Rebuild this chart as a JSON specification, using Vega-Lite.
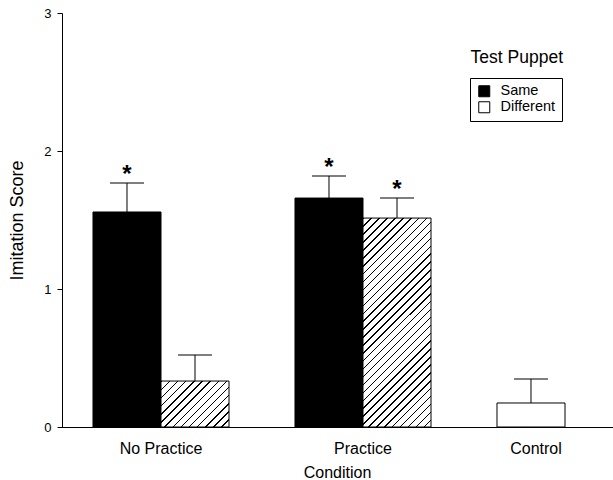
{
  "$schema": "https://vega.github.io/schema/vega-lite/v6.json",
  "autosize": "none",
  "width": 551,
  "height": 414,
  "padding": {"left": 62, "top": 13, "right": 0, "bottom": 53},
  "background": "white",
  "config": {
    "view": {"stroke": null},
    "font": "Liberation Sans",
    "axis": {"labelColor": "black", "titleColor": "black", "domainColor": "black", "tickColor": "black", "titleFontWeight": "normal", "labelFontSize": 16, "titleFontSize": 16, "grid": false, "labelFont": "Liberation Sans", "titleFont": "Liberation Sans"}
  },
  "title": {"text": "Test Puppet", "anchor": "end", "frame": "group", "orient": "top", "offset": -73, "dx": -50, "baseline": "alphabetic", "fontSize": 17.5, "fontWeight": "normal", "color": "black", "font": "Liberation Sans"},
  "data": {"values": [
    {"condition": "No Practice", "puppet": "Same", "mean": 1.558, "upper": 1.768, "sig": "*"},
    {"condition": "No Practice", "puppet": "Different", "mean": 0.333, "upper": 0.522, "sig": ""},
    {"condition": "Practice", "puppet": "Same", "mean": 1.659, "upper": 1.819, "sig": "*"},
    {"condition": "Practice", "puppet": "Different", "mean": 1.514, "upper": 1.659, "sig": "*"},
    {"condition": "Control", "puppet": "Control", "mean": 0.174, "upper": 0.348, "sig": ""}
  ]},
  "encoding": {
    "x": {"field": "condition", "type": "nominal", "title": "Condition",
      "scale": {"domain": ["No Practice", "Practice", "Control"], "range": [-2, 604], "paddingInner": 0, "paddingOuter": 0},
      "axis": {"labelAngle": 0, "ticks": false, "labelPadding": 13, "titlePadding": 8, "titleX": 275, "titleFontSize": 16,
        "labelOffset": {"condition": {"test": "datum.value === 'Control'", "value": -29}, "value": 0}}},
    "y": {"field": "mean", "type": "quantitative", "title": "Imitation Score",
      "scale": {"domain": [0, 3], "nice": false},
      "axis": {"values": [0, 1, 2, 3], "tickSize": 5, "labelPadding": 6, "labelFontSize": 13, "titleFontSize": 18, "titlePadding": 17}}
  },
  "layer": [
    {
      "transform": [{"filter": "datum.puppet !== 'Control'"}],
      "encoding": {"xOffset": {"field": "puppet", "type": "nominal", "scale": {"domain": ["Same", "Different"], "paddingInner": 0, "paddingOuter": 0.485}}},
      "layer": [
        {
          "transform": [{"filter": "datum.puppet === 'Same'"}],
          "mark": {"type": "bar", "stroke": "black", "strokeWidth": 1},
          "encoding": {
            "color": {"field": "puppet", "type": "nominal",
              "scale": {"domain": ["Same", "Different"], "range": ["black", "white"]},
              "legend": {"title": null, "orient": "none", "legendX": 408, "legendY": 65, "strokeColor": "black", "padding": 6, "symbolType": "square", "symbolSize": 121, "symbolStrokeColor": "black", "symbolStrokeWidth": 1, "labelFontSize": 14.5, "labelColor": "black", "labelOffset": 9, "symbolOffset": 1, "rowPadding": 0, "labelFont": "Liberation Sans",
                "encode": {"symbols": {"update": {"stroke": {"value": "black"}, "strokeWidth": {"value": 1}}}}}}
          }
        },
        {
          "transform": [{"filter": "datum.puppet === 'Different' && datum.condition === 'No Practice'"}],
          "mark": {"type": "bar", "stroke": "black", "strokeWidth": 1, "fill": {"gradient": "linear", "x1": 0, "y1": 0, "x2": 1.1501, "y2": 0.778, "stops": [
            {"offset": 0, "color": "#000"}, {"offset": 0.013, "color": "#000"}, {"offset": 0.013, "color": "#fff"}, {"offset": 0.0714, "color": "#fff"},
            {"offset": 0.0714, "color": "#000"}, {"offset": 0.0844, "color": "#000"}, {"offset": 0.0844, "color": "#fff"}, {"offset": 0.1429, "color": "#fff"},
            {"offset": 0.1429, "color": "#000"}, {"offset": 0.1559, "color": "#000"}, {"offset": 0.1559, "color": "#fff"}, {"offset": 0.2143, "color": "#fff"},
            {"offset": 0.2143, "color": "#000"}, {"offset": 0.2273, "color": "#000"}, {"offset": 0.2273, "color": "#fff"}, {"offset": 0.2857, "color": "#fff"},
            {"offset": 0.2857, "color": "#000"}, {"offset": 0.2987, "color": "#000"}, {"offset": 0.2987, "color": "#fff"}, {"offset": 0.3571, "color": "#fff"},
            {"offset": 0.3571, "color": "#000"}, {"offset": 0.3701, "color": "#000"}, {"offset": 0.3701, "color": "#fff"}, {"offset": 0.4286, "color": "#fff"},
            {"offset": 0.4286, "color": "#000"}, {"offset": 0.4416, "color": "#000"}, {"offset": 0.4416, "color": "#fff"}, {"offset": 0.5, "color": "#fff"},
            {"offset": 0.5, "color": "#000"}, {"offset": 0.513, "color": "#000"}, {"offset": 0.513, "color": "#fff"}, {"offset": 0.5714, "color": "#fff"},
            {"offset": 0.5714, "color": "#000"}, {"offset": 0.5844, "color": "#000"}, {"offset": 0.5844, "color": "#fff"}, {"offset": 0.6429, "color": "#fff"},
            {"offset": 0.6429, "color": "#000"}, {"offset": 0.6559, "color": "#000"}, {"offset": 0.6559, "color": "#fff"}, {"offset": 0.7143, "color": "#fff"},
            {"offset": 0.7143, "color": "#000"}, {"offset": 0.7273, "color": "#000"}, {"offset": 0.7273, "color": "#fff"}, {"offset": 0.7857, "color": "#fff"},
            {"offset": 0.7857, "color": "#000"}, {"offset": 0.7987, "color": "#000"}, {"offset": 0.7987, "color": "#fff"}, {"offset": 0.8571, "color": "#fff"},
            {"offset": 0.8571, "color": "#000"}, {"offset": 0.8701, "color": "#000"}, {"offset": 0.8701, "color": "#fff"}, {"offset": 0.9286, "color": "#fff"},
            {"offset": 0.9286, "color": "#000"}, {"offset": 0.9416, "color": "#000"}, {"offset": 0.9416, "color": "#fff"}, {"offset": 1, "color": "#fff"}]}}
        },
        {
          "transform": [{"filter": "datum.puppet === 'Different' && datum.condition === 'Practice'"}],
          "mark": {"type": "bar", "stroke": "black", "strokeWidth": 1, "fill": {"gradient": "linear", "x1": 0, "y1": 0, "x2": 0.38994, "y2": 1.19849, "stops": [
            {"offset": 0, "color": "#000"}, {"offset": 0.0054, "color": "#000"}, {"offset": 0.0054, "color": "#fff"}, {"offset": 0.02857, "color": "#fff"},
            {"offset": 0.02857, "color": "#000"}, {"offset": 0.03397, "color": "#000"}, {"offset": 0.03397, "color": "#fff"}, {"offset": 0.05714, "color": "#fff"},
            {"offset": 0.05714, "color": "#000"}, {"offset": 0.06254, "color": "#000"}, {"offset": 0.06254, "color": "#fff"}, {"offset": 0.08571, "color": "#fff"},
            {"offset": 0.08571, "color": "#000"}, {"offset": 0.09111, "color": "#000"}, {"offset": 0.09111, "color": "#fff"}, {"offset": 0.11429, "color": "#fff"},
            {"offset": 0.11429, "color": "#000"}, {"offset": 0.11969, "color": "#000"}, {"offset": 0.11969, "color": "#fff"}, {"offset": 0.14286, "color": "#fff"},
            {"offset": 0.14286, "color": "#000"}, {"offset": 0.14826, "color": "#000"}, {"offset": 0.14826, "color": "#fff"}, {"offset": 0.17143, "color": "#fff"},
            {"offset": 0.17143, "color": "#000"}, {"offset": 0.17683, "color": "#000"}, {"offset": 0.17683, "color": "#fff"}, {"offset": 0.2, "color": "#fff"},
            {"offset": 0.2, "color": "#000"}, {"offset": 0.2054, "color": "#000"}, {"offset": 0.2054, "color": "#fff"}, {"offset": 0.22857, "color": "#fff"},
            {"offset": 0.22857, "color": "#000"}, {"offset": 0.23397, "color": "#000"}, {"offset": 0.23397, "color": "#fff"}, {"offset": 0.25714, "color": "#fff"},
            {"offset": 0.25714, "color": "#000"}, {"offset": 0.26254, "color": "#000"}, {"offset": 0.26254, "color": "#fff"}, {"offset": 0.28571, "color": "#fff"},
            {"offset": 0.28571, "color": "#000"}, {"offset": 0.29111, "color": "#000"}, {"offset": 0.29111, "color": "#fff"}, {"offset": 0.31429, "color": "#fff"},
            {"offset": 0.31429, "color": "#000"}, {"offset": 0.31969, "color": "#000"}, {"offset": 0.31969, "color": "#fff"}, {"offset": 0.34286, "color": "#fff"},
            {"offset": 0.34286, "color": "#000"}, {"offset": 0.34826, "color": "#000"}, {"offset": 0.34826, "color": "#fff"}, {"offset": 0.37143, "color": "#fff"},
            {"offset": 0.37143, "color": "#000"}, {"offset": 0.37683, "color": "#000"}, {"offset": 0.37683, "color": "#fff"}, {"offset": 0.4, "color": "#fff"},
            {"offset": 0.4, "color": "#000"}, {"offset": 0.4054, "color": "#000"}, {"offset": 0.4054, "color": "#fff"}, {"offset": 0.42857, "color": "#fff"},
            {"offset": 0.42857, "color": "#000"}, {"offset": 0.43397, "color": "#000"}, {"offset": 0.43397, "color": "#fff"}, {"offset": 0.45714, "color": "#fff"},
            {"offset": 0.45714, "color": "#000"}, {"offset": 0.46254, "color": "#000"}, {"offset": 0.46254, "color": "#fff"}, {"offset": 0.48571, "color": "#fff"},
            {"offset": 0.48571, "color": "#000"}, {"offset": 0.49111, "color": "#000"}, {"offset": 0.49111, "color": "#fff"}, {"offset": 0.51429, "color": "#fff"},
            {"offset": 0.51429, "color": "#000"}, {"offset": 0.51969, "color": "#000"}, {"offset": 0.51969, "color": "#fff"}, {"offset": 0.54286, "color": "#fff"},
            {"offset": 0.54286, "color": "#000"}, {"offset": 0.54826, "color": "#000"}, {"offset": 0.54826, "color": "#fff"}, {"offset": 0.57143, "color": "#fff"},
            {"offset": 0.57143, "color": "#000"}, {"offset": 0.57683, "color": "#000"}, {"offset": 0.57683, "color": "#fff"}, {"offset": 0.6, "color": "#fff"},
            {"offset": 0.6, "color": "#000"}, {"offset": 0.6054, "color": "#000"}, {"offset": 0.6054, "color": "#fff"}, {"offset": 0.62857, "color": "#fff"},
            {"offset": 0.62857, "color": "#000"}, {"offset": 0.63397, "color": "#000"}, {"offset": 0.63397, "color": "#fff"}, {"offset": 0.65714, "color": "#fff"},
            {"offset": 0.65714, "color": "#000"}, {"offset": 0.66254, "color": "#000"}, {"offset": 0.66254, "color": "#fff"}, {"offset": 0.68571, "color": "#fff"},
            {"offset": 0.68571, "color": "#000"}, {"offset": 0.69111, "color": "#000"}, {"offset": 0.69111, "color": "#fff"}, {"offset": 0.71429, "color": "#fff"},
            {"offset": 0.71429, "color": "#000"}, {"offset": 0.71969, "color": "#000"}, {"offset": 0.71969, "color": "#fff"}, {"offset": 0.74286, "color": "#fff"},
            {"offset": 0.74286, "color": "#000"}, {"offset": 0.74826, "color": "#000"}, {"offset": 0.74826, "color": "#fff"}, {"offset": 0.77143, "color": "#fff"},
            {"offset": 0.77143, "color": "#000"}, {"offset": 0.77683, "color": "#000"}, {"offset": 0.77683, "color": "#fff"}, {"offset": 0.8, "color": "#fff"},
            {"offset": 0.8, "color": "#000"}, {"offset": 0.8054, "color": "#000"}, {"offset": 0.8054, "color": "#fff"}, {"offset": 0.82857, "color": "#fff"},
            {"offset": 0.82857, "color": "#000"}, {"offset": 0.83397, "color": "#000"}, {"offset": 0.83397, "color": "#fff"}, {"offset": 0.85714, "color": "#fff"},
            {"offset": 0.85714, "color": "#000"}, {"offset": 0.86254, "color": "#000"}, {"offset": 0.86254, "color": "#fff"}, {"offset": 0.88571, "color": "#fff"},
            {"offset": 0.88571, "color": "#000"}, {"offset": 0.89111, "color": "#000"}, {"offset": 0.89111, "color": "#fff"}, {"offset": 0.91429, "color": "#fff"},
            {"offset": 0.91429, "color": "#000"}, {"offset": 0.91969, "color": "#000"}, {"offset": 0.91969, "color": "#fff"}, {"offset": 0.94286, "color": "#fff"},
            {"offset": 0.94286, "color": "#000"}, {"offset": 0.94826, "color": "#000"}, {"offset": 0.94826, "color": "#fff"}, {"offset": 0.97143, "color": "#fff"},
            {"offset": 0.97143, "color": "#000"}, {"offset": 0.97683, "color": "#000"}, {"offset": 0.97683, "color": "#fff"}, {"offset": 1, "color": "#fff"}]}}
        },
        {
          "mark": {"type": "rule", "color": "black", "strokeWidth": 1},
          "encoding": {"y2": {"field": "upper"}}
        },
        {
          "mark": {"type": "tick", "orient": "horizontal", "size": 34, "thickness": 1, "color": "black", "opacity": 1},
          "encoding": {"y": {"field": "upper", "type": "quantitative", "title": "Imitation Score"}}
        },
        {
          "transform": [{"filter": "datum.sig !== ''"}],
          "mark": {"type": "text", "fontSize": 24, "fontWeight": "bold", "baseline": "alphabetic", "dy": -1, "color": "black", "font": "Liberation Sans"},
          "encoding": {"y": {"field": "upper", "type": "quantitative", "title": "Imitation Score"}, "text": {"field": "sig"}}
        }
      ]
    },
    {
      "transform": [{"filter": "datum.puppet === 'Control'"}],
      "encoding": {"xOffset": {"datum": "Same", "type": "nominal"}},
      "layer": [
        {"mark": {"type": "bar", "stroke": "black", "strokeWidth": 1, "fill": "white"}},
        {"mark": {"type": "rule", "color": "black", "strokeWidth": 1}, "encoding": {"y2": {"field": "upper"}}},
        {"mark": {"type": "tick", "orient": "horizontal", "size": 34, "thickness": 1, "color": "black", "opacity": 1},
         "encoding": {"y": {"field": "upper", "type": "quantitative", "title": "Imitation Score"}}}
      ]
    }
  ]
}
